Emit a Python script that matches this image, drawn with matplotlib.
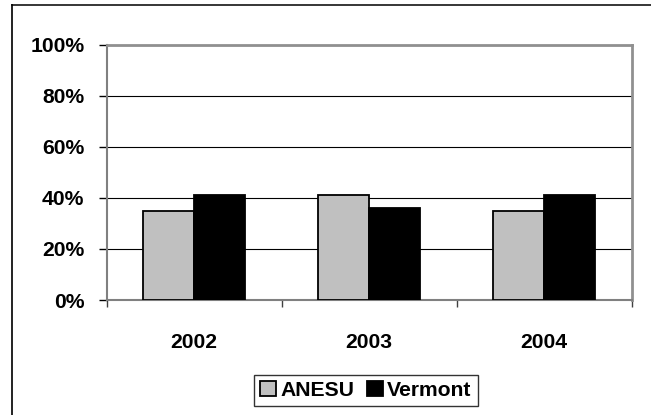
import numpy as np
import matplotlib.pyplot as plt
from matplotlib.lines import Line2D
from matplotlib.ticker import FuncFormatter

plt.rcParams['font.family'] = ['Liberation Sans', 'DejaVu Sans']
plt.rcParams['font.weight'] = 'bold'

# Data (percent)
years = ["2002", "2003", "2004"]
anesu = [35, 41, 35]
vermont = [41, 36, 41]
yticks = [0, 20, 40, 60, 80, 100]

fig = plt.figure(figsize=(6.51, 4.15), dpi=100)
ax = fig.add_axes([0.1639, 0.2771, 0.8065, 0.6145])

x = np.arange(len(years))
w = 0.29
b1 = ax.bar(x - w / 2, anesu, w, color="#c0c0c0", edgecolor="black",
            linewidth=1.3, label="ANESU", zorder=3)
b2 = ax.bar(x + w / 2, vermont, w, color="black", edgecolor="black",
            linewidth=1.3, label="Vermont", zorder=3)

ax.set_xlim(-0.5, 2.5)
ax.set_ylim(0, 100)
ax.set_yticks(yticks)
ax.yaxis.set_major_formatter(FuncFormatter(lambda v, p: f"{v:.0f}%"))
ax.grid(axis="y", color="black", linewidth=0.8, zorder=0)

# category labels centred, tick marks at the category boundaries
ax.set_xticks([-0.5, 0.5, 1.5, 2.5])
ax.set_xticklabels([])
ax.set_xticks(x, minor=True)
ax.set_xticklabels(years, minor=True, fontsize=15.2, fontweight="bold")
ax.tick_params(axis="x", which="minor", length=0, pad=24)
ax.tick_params(axis="x", which="major", length=5, width=1, color="#404040")
ax.tick_params(axis="y", length=6, width=1, pad=10, labelsize=15.2, color="black")

for side in ["left", "bottom"]:
    ax.spines[side].set_color("#808080")
    ax.spines[side].set_linewidth(1.5)
for side in ["top", "right"]:
    ax.spines[side].set_color("#909090")
    ax.spines[side].set_linewidth(2)

leg = fig.legend(handles=[b1, b2], loc="center", bbox_to_anchor=(0.562, 0.059),
                 ncol=2, frameon=True, fancybox=False, fontsize=15.2,
                 handlelength=0.75, handleheight=0.75, handletextpad=0.2,
                 columnspacing=0.6, borderpad=0.3, borderaxespad=0)
leg.get_frame().set_edgecolor("black")
leg.get_frame().set_linewidth(1)

# outer chart border (only left and top edges visible in the crop)
fig.add_artist(Line2D([12 / 651, 12 / 651], [0, 1 - 5 / 415], color="#222222", linewidth=1.4))
fig.add_artist(Line2D([12 / 651, 1], [1 - 5 / 415, 1 - 5 / 415], color="black", linewidth=1.1))

fig.savefig("out.png", dpi=100)
